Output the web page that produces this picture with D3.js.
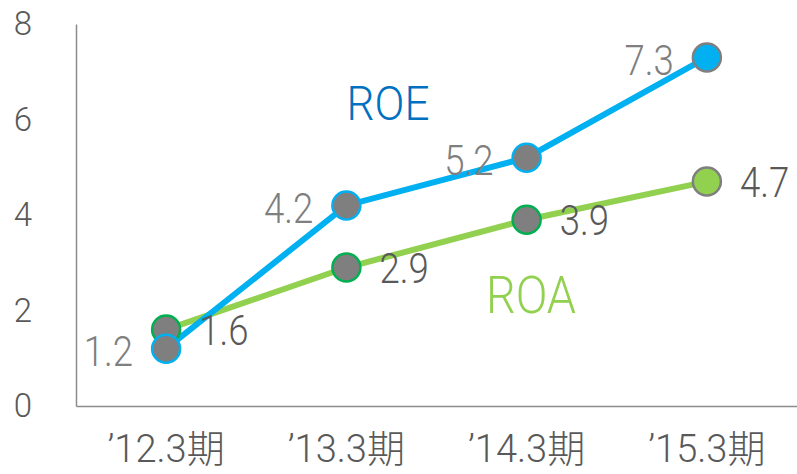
<!DOCTYPE html>
<html>
<head>
<meta charset="utf-8">
<script src="https://cdn.jsdelivr.net/npm/d3@7"></script>
<style>
    body { margin: 0; background: #fff; }
    text { font-family: Roboto, "Noto Sans CJK JP", sans-serif; font-weight: 300; }
</style>
</head>
<body>
<div id="chart"></div>
<script>
var categories = ["\u201912.3期", "\u201913.3期", "\u201914.3期", "\u201915.3期"];
var roeValues = [1.2, 4.2, 5.2, 7.3];
var roaValues = [1.6, 2.9, 3.9, 4.7];
var yTicks = [0, 2, 4, 6, 8];

var width = 797;
var height = 474;
var margin = { top: 24, right: 0, bottom: 68, left: 76 };

var svg = d3.select("#chart").append("svg")
    .attr("width", width)
    .attr("height", height);

var x = d3.scaleBand()
    .domain(categories)
    .range([margin.left, width - margin.right])
    .paddingInner(0);

var y = d3.scaleLinear()
    .domain([0, 8])
    .range([height - margin.bottom, margin.top]);

function cx(d, i) { return x(categories[i]) + x.bandwidth() / 2; }

// axes
var yAxis = svg.append("g")
    .attr("transform", "translate(" + margin.left + ",0)")
    .call(d3.axisLeft(y).tickValues(yTicks).tickSize(0).tickPadding(44));
var xAxis = svg.append("g")
    .attr("transform", "translate(0," + y(0) + ")")
    .call(d3.axisBottom(x).tickSize(0).tickPadding(29));

[yAxis, xAxis].forEach(function(a) {
    a.select(".domain").attr("stroke", "#8c8c8c").attr("stroke-width", 1.5);
});
yAxis.selectAll("text")
    .attr("fill", "#595959")
    .style("font-family", "Roboto, sans-serif")
    .style("font-weight", 300)
    .style("font-size", "33px");
xAxis.selectAll("text")
    .attr("fill", "#595959")
    .style("font-family", "Roboto, 'Noto Sans CJK JP', sans-serif")
    .style("font-weight", 300)
    .style("font-size", "38px");

var line = d3.line()
    .x(cx)
    .y(function(d) { return y(d); });

svg.append("path")
    .datum(roaValues)
    .attr("fill", "none")
    .attr("stroke", "#92D050")
    .attr("stroke-width", 6)
    .attr("d", line);

svg.append("path")
    .datum(roeValues)
    .attr("fill", "none")
    .attr("stroke", "#00B0F0")
    .attr("stroke-width", 6)
    .attr("d", line);

function drawMarkers(values, color, edge) {
    var last = values.length - 1;
    svg.append("g").selectAll("circle")
        .data(values).enter().append("circle")
        .attr("cx", cx)
        .attr("cy", function(d) { return y(d); })
        .attr("r", 14)
        .attr("fill", function(d, i) { return i === last ? color : "#7f7f7f"; })
        .attr("stroke", function(d, i) { return i === last ? "#7f7f7f" : edge; })
        .attr("stroke-width", 2.5);
}
drawMarkers(roaValues, "#92D050", "#00B050");
drawMarkers(roeValues, "#00B0F0", "#00B0F0");

// value labels, squeezed a bit to look like the narrow font
function drawLabels(values, dx, dy, anchor, color) {
    svg.append("g").selectAll("g")
        .data(values).enter().append("g")
        .attr("transform", function(d, i) {
            return "translate(" + (cx(d, i) + dx) + "," + (y(d) + dy) + ")";
        })
        .append("text")
        .attr("transform", "scale(0.85,1)")
        .attr("dy", "0.36em")
        .attr("text-anchor", anchor)
        .attr("fill", color)
        .style("font-size", "43px")
        .text(function(d) { return d.toFixed(1); });
}
drawLabels(roeValues, -33, 2, "end", "#7f7f7f");
drawLabels(roaValues, 33, 0, "start", "#595959");

// series names
svg.append("text")
    .attr("transform", "translate(388,120) scale(0.9,1)")
    .attr("text-anchor", "middle")
    .attr("fill", "#0070C0")
    .style("font-size", "49px")
    .text("ROE");

svg.append("text")
    .attr("transform", "translate(531,313) scale(0.9,1)")
    .attr("text-anchor", "middle")
    .attr("fill", "#92D050")
    .style("font-size", "52px")
    .text("ROA");
</script>
</body>
</html>
